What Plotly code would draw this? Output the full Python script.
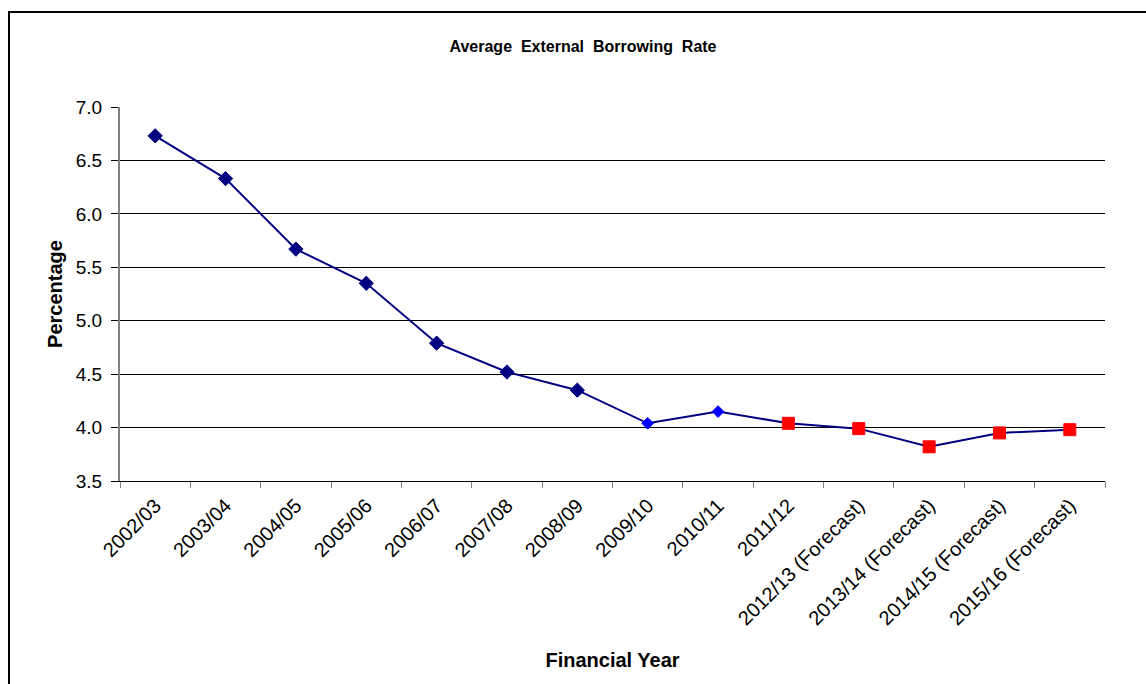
import plotly.graph_objects as go

# Financial years and average external borrowing rate (%)
years = [
    "2002/03", "2003/04", "2004/05", "2005/06", "2006/07", "2007/08",
    "2008/09", "2009/10", "2010/11", "2011/12",
    "2012/13 (Forecast)", "2013/14 (Forecast)",
    "2014/15 (Forecast)", "2015/16 (Forecast)",
]
rates = [6.73, 6.33, 5.67, 5.35, 4.79, 4.52, 4.35, 4.04, 4.15, 4.04,
         3.99, 3.82, 3.95, 3.98]

# Marker styling per point: historic, recent, and forecast years
marker_symbols = ["diamond"] * 9 + ["square"] * 5
marker_colors = ["#000080"] * 7 + ["#0000FF"] * 2 + ["#FF0000"] * 5
marker_sizes = [11] * 7 + [9] * 2 + [12] * 5

FONT = "Arial, Liberation Sans, sans-serif"

fig = go.Figure(
    go.Scatter(
        x=years,
        y=rates,
        mode="lines+markers",
        opacity=1,
        line=dict(color="#000080", width=2),
        marker=dict(symbol=marker_symbols, color=marker_colors,
                    size=marker_sizes, opacity=1,
                    line=dict(width=1, color=marker_colors)),
        showlegend=False,
    )
)

fig.update_layout(
    width=1146,
    height=684,
    margin=dict(l=120, r=41, t=107, b=203),
    paper_bgcolor="white",
    plot_bgcolor="white",
    font=dict(family=FONT, color="black"),
    title=dict(
        text="<b>Average&nbsp; External&nbsp; Borrowing&nbsp; Rate</b>",
        x=(583 - 120) / 985, xanchor="center", xref="paper",
        y=1 - 46 / 684, yanchor="middle",
        font=dict(size=16, family=FONT),
    ),
    xaxis=dict(
        type="category",
        range=[-0.5, 13.5],
        tickangle=-45,
        tickfont=dict(size=20, family=FONT),
        ticks="outside",
        tickson="boundaries",
        ticklen=6,
        tickcolor="#808080",
        ticklabelstandoff=4,
        showgrid=False,
        showline=True,
        linecolor="black",
        linewidth=1,
        title=dict(text="<b>Financial Year</b>",
                   font=dict(size=20, family=FONT), standoff=24),
    ),
    yaxis=dict(
        range=[3.5, 7.0],
        dtick=0.5,
        tickformat=".1f",
        tickfont=dict(size=19, family=FONT),
        ticks="outside",
        ticklen=7,
        tickcolor="black",
        ticklabelstandoff=5,
        showgrid=True,
        gridcolor="black",
        gridwidth=1,
        showline=True,
        linecolor="#808080",
        linewidth=2,
        zeroline=False,
        title=dict(text="<b>Percentage</b>",
                   font=dict(size=20, family=FONT), standoff=8),
    ),
    shapes=[
        # outer chart frame
        dict(type="rect", xref="paper", yref="paper",
             x0=(9 - 120) / 985, x1=1.2,
             y0=-0.7, y1=(481 - 12) / 374,
             line=dict(color="black", width=2), layer="below"),
    ],
)

fig.write_html("out.html")
